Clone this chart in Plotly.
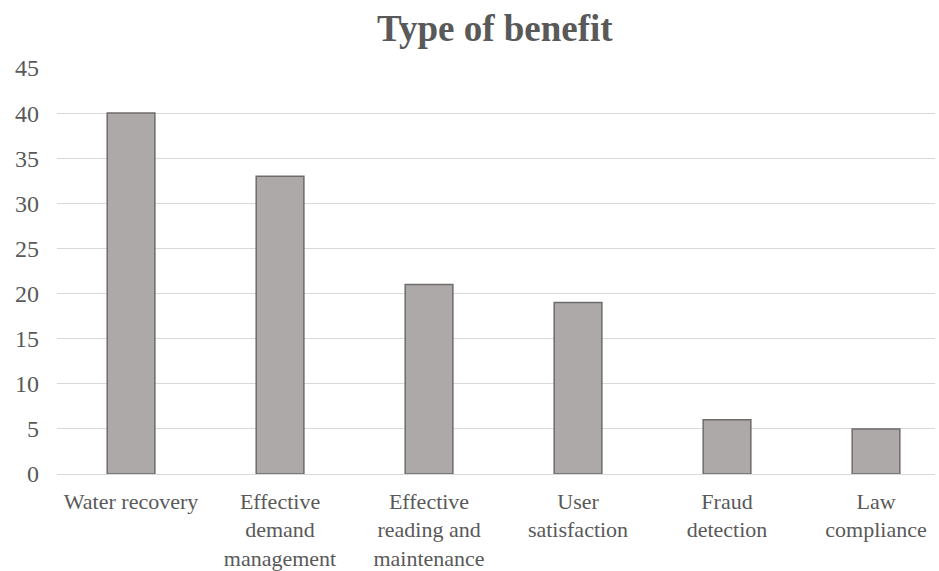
import plotly.graph_objects as go

categories = [
    "Water recovery",
    "Effective<br>demand<br>management",
    "Effective<br>reading and<br>maintenance",
    "User<br>satisfaction",
    "Fraud<br>detection",
    "Law<br>compliance",
]
counts = [40, 33, 21, 19, 6, 5]
y_ticks = [0, 5, 10, 15, 20, 25, 30, 35, 40, 45]

text_color = "#595959"
serif = "Liberation Serif, Times New Roman, serif"

fig = go.Figure(
    go.Bar(
        x=categories,
        y=counts,
        width=0.32,
        marker=dict(color="#ADA9A8", line=dict(color="#6E6B6B", width=1.5)),
    )
)

fig.update_layout(
    width=939,
    height=571,
    margin=dict(l=57, r=4, t=68, b=97),
    paper_bgcolor="white",
    plot_bgcolor="white",
    showlegend=False,
    title=dict(
        text="<b>Type of benefit</b>",
        x=0.527,
        xanchor="center",
        y=1 - 28 / 571,
        yref="container",
        yanchor="middle",
        font=dict(family=serif, size=37, color=text_color),
    ),
    font=dict(family=serif, color=text_color),
)

fig.update_yaxes(
    range=[0, 45],
    tickvals=y_ticks,
    ticktext=[str(v) for v in y_ticks],
    showgrid=True,
    gridcolor="#D9D9D9",
    gridwidth=1.3,
    zeroline=False,
    showline=False,
    ticks="",
    automargin=False,
    ticklabelstandoff=17,
    tickfont=dict(family=serif, size=24, color=text_color),
)

fig.update_xaxes(
    range=[-0.497, 5.396],
    showline=True,
    linecolor="#D9D9D9",
    linewidth=1.3,
    ticks="",
    tickangle=0,
    automargin=False,
    ticklabelstandoff=7,
    tickfont=dict(family=serif, size=22, color=text_color),
)

fig.write_html("out.html")
